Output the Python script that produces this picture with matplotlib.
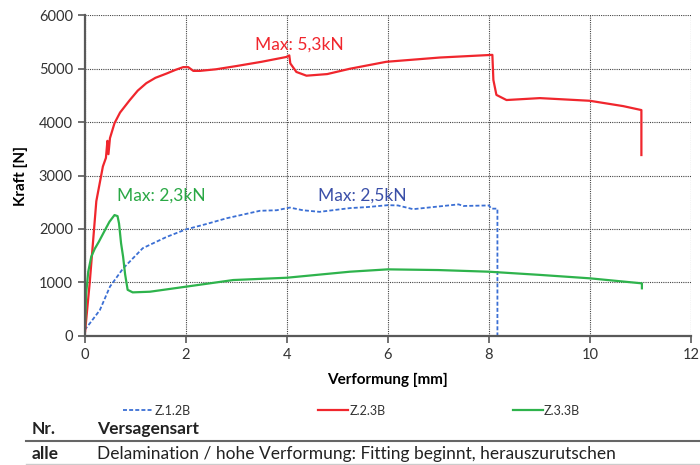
import matplotlib.pyplot as plt

plt.rcParams['font.family'] = ['Lato', 'DejaVu Sans']

# Z.1.2B (blue, dashed)
z12_x = [0.0, 0.1, 0.3, 0.5, 0.76, 1.15, 1.62, 2.0, 2.4, 2.81, 3.47, 3.8, 4.06,
         4.32, 4.65, 5.25, 5.6, 6.0, 6.2, 6.5, 7.0, 7.4, 7.5, 8.0, 8.05, 8.17, 8.17]
z12_y = [110, 230, 480, 920, 1260, 1640, 1850, 1990, 2090, 2200, 2340, 2350, 2400,
         2350, 2320, 2390, 2410, 2445, 2440, 2370, 2420, 2460, 2430, 2440, 2380, 2380, 0]

# Z.2.3B (red)
z23_x = [0.0, 0.1, 0.23, 0.36, 0.42, 0.45, 0.47, 0.5, 0.59, 0.7, 0.89, 1.05, 1.22,
         1.4, 1.62, 1.8, 1.95, 2.05, 2.15, 2.28, 2.6, 3.0, 3.5, 3.99, 4.05, 4.07,
         4.19, 4.39, 4.8, 5.25, 5.97, 7.03, 8.07, 8.09, 8.15, 8.35, 9.01, 10.0,
         10.66, 11.02, 11.02]
z23_y = [0, 1000, 2520, 3170, 3330, 3650, 3400, 3700, 3980, 4180, 4410, 4590, 4730,
         4830, 4910, 4980, 5030, 5030, 4960, 4960, 4990, 5050, 5130, 5220, 5250, 5100,
         4940, 4870, 4900, 5000, 5130, 5210, 5260, 4790, 4510, 4414, 4450, 4400,
         4300, 4226, 3384]

# Z.3.3B (green)
z33_x = [0.0, 0.03, 0.07, 0.13, 0.2, 0.28, 0.38, 0.49, 0.59, 0.65, 0.68, 0.72,
         0.76, 0.8, 0.85, 0.95, 1.29, 2.0, 2.94, 4.0, 5.25, 6.0, 7.0, 8.0, 9.0,
         10.0, 11.03, 11.03]
z33_y = [0, 800, 1200, 1480, 1630, 1760, 1940, 2135, 2260, 2240, 2100, 1730,
         1480, 1150, 860, 812, 824, 918, 1043, 1086, 1199, 1243, 1230, 1199, 1140,
         1075, 981, 888]

series_labels = ['Z.1.2B', 'Z.2.3B', 'Z.3.3B']
max_labels = ['Max: 2,5kN', 'Max: 5,3kN', 'Max: 2,3kN']

fig = plt.figure(figsize=(7, 4.65), dpi=100)
ax = fig.add_axes([0.121, 0.278, 0.866, 0.689])

blue = '#3b6fd4'
red = '#f0262d'
green = '#2eb34c'

ax.plot(z12_x, z12_y, color=blue, lw=1.3, dashes=(2.2, 1.2), label=series_labels[0])
ax.plot(z23_x, z23_y, color=red, lw=1.6, label=series_labels[1])
ax.plot(z33_x, z33_y, color=green, lw=1.6, label=series_labels[2])

ax.text(4.61, 2616, max_labels[0], color='#3a4fa8', fontsize=12.5, va='center')
ax.text(3.37, 5444, max_labels[1], color=red, fontsize=12.5, va='center')
ax.text(0.63, 2616, max_labels[2], color='#2aa845', fontsize=12.5, va='center')

ax.set_xlim(0, 12)
ax.set_ylim(0, 6000)
ax.set_xticks(range(0, 13, 2))
ax.set_yticks(range(0, 6001, 1000))
ax.grid(True, color='#444444', ls=(0, (1, 1)), lw=0.8)
ax.set_axisbelow(True)
for s in ['top', 'right']:
    ax.spines[s].set_visible(False)
for s in ['left', 'bottom']:
    ax.spines[s].set_color('#595959')
    ax.spines[s].set_linewidth(1.6)
ax.tick_params(colors='#595959', labelcolor='#333333', labelsize=10.5, length=5, width=1.2)

ax.set_xlabel('Verformung [mm]', fontsize=11, fontweight='bold', labelpad=8)
ax.set_ylabel('Kraft [N]', fontsize=11, fontweight='bold', labelpad=8)

ax.legend(loc='upper left', bbox_to_anchor=(0.055, -0.2), ncol=3, frameon=False,
          fontsize=9, handlelength=2.4, handletextpad=0.1, columnspacing=10.2,
          borderaxespad=0, labelcolor='#333333')

# table below the chart
fig.text(32 / 700, 1 - 429 / 465, 'Nr.', fontsize=12.5, fontweight='bold', va='center', color='#222222')
fig.text(97 / 700, 1 - 429 / 465, 'Versagensart', fontsize=12.5, fontweight='bold', va='center', color='#222222')
fig.text(32 / 700, 1 - 454 / 465, 'alle', fontsize=12.5, fontweight='bold', va='center', color='#222222')
fig.text(97 / 700, 1 - 454 / 465, 'Delamination / hohe Verformung: Fitting beginnt, herauszurutschen',
         fontsize=12.5, va='center', color='#222222')
fig.add_artist(plt.Line2D([26 / 700, 1], [1 - 441 / 465] * 2, color='#666666', lw=1.5))
fig.add_artist(plt.Line2D([26 / 700, 1], [1 - 464 / 465] * 2, color='#cccccc', lw=1))

fig.savefig('out.png', dpi=100)
